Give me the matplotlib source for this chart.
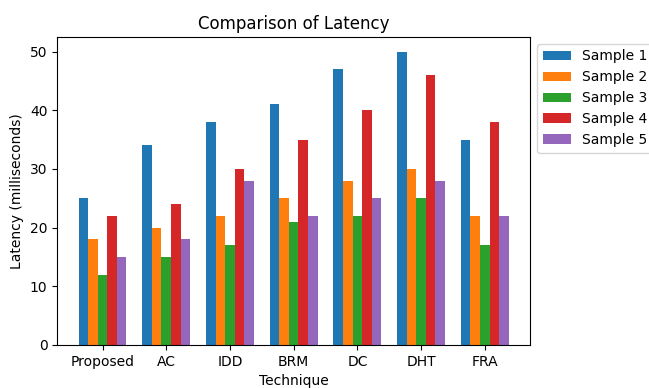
import matplotlib
matplotlib.use("Agg")
import matplotlib.pyplot as plt
import numpy as np

techniques = ["Proposed", "AC", "IDD", "BRM", "DC", "DHT", "FRA"]
sample1 = [25, 34, 38, 41, 47, 50, 35]
sample2 = [18, 20, 22, 25, 28, 30, 22]
sample3 = [12, 15, 17, 21, 22, 25, 17]
sample4 = [22, 24, 30, 35, 40, 46, 38]
sample5 = [15, 18, 28, 22, 25, 28, 22]
series_names = ["Sample 1", "Sample 2", "Sample 3", "Sample 4", "Sample 5"]
series = [sample1, sample2, sample3, sample4, sample5]

fig = plt.figure(figsize=(6.49, 3.88), dpi=100)
ax = fig.add_axes([0.088, 0.111, 0.729, 0.794])
x = np.arange(len(techniques))
w = 0.15
for i, (name, vals) in enumerate(zip(series_names, series)):
    ax.bar(x + (i - 2) * w, vals, w, label=name)
ax.set_xticks(x)
ax.set_xticklabels(techniques)
ax.set_xlabel("Technique")
ax.set_ylabel("Latency (milliseconds)")
ax.set_title("Comparison of Latency")
ax.legend(bbox_to_anchor=(1, 1), loc="upper left")
fig.savefig("out.png", dpi=100)
